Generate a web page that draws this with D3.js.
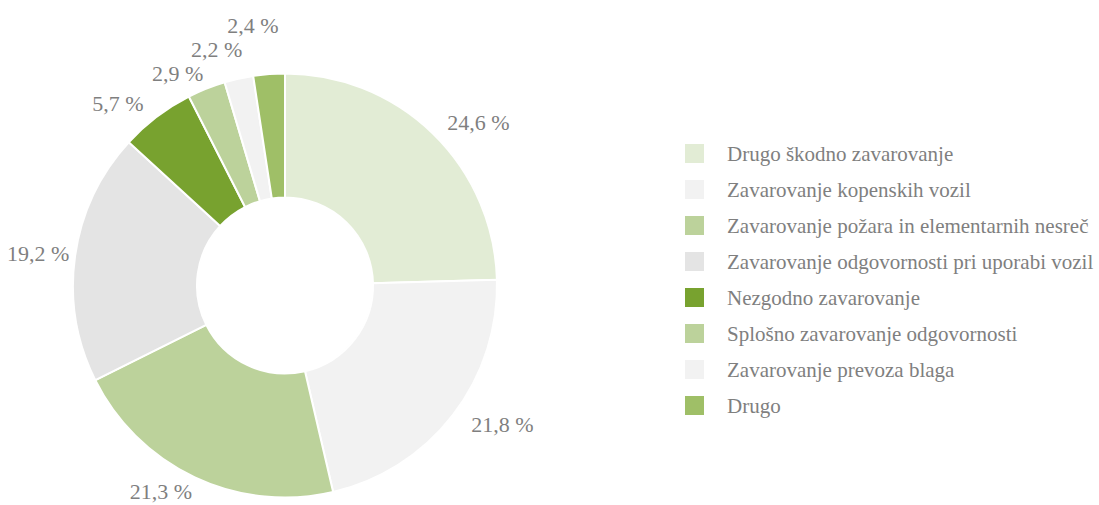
<!DOCTYPE html>
<html>
<head>
  <meta charset="utf-8">
  <script src="https://cdn.jsdelivr.net/npm/d3@7"></script>
  <style>
    body { margin: 0; background: #fff; }
    svg text { font-family: "Liberation Serif", "Times New Roman", serif; }
  </style>
</head>
<body>
<script>
  // chart data
  var categories = [
    "Drugo škodno zavarovanje",
    "Zavarovanje kopenskih vozil",
    "Zavarovanje požara in elementarnih nesreč",
    "Zavarovanje odgovornosti pri uporabi vozil",
    "Nezgodno zavarovanje",
    "Splošno zavarovanje odgovornosti",
    "Zavarovanje prevoza blaga",
    "Drugo"
  ];
  var shares = [24.6, 21.8, 21.3, 19.2, 5.7, 2.9, 2.2, 2.4];
  var colours = ["#e2ecd5", "#f2f2f2", "#bcd29b", "#e4e4e4", "#78a22f", "#bcd29b", "#f2f2f2", "#9fbf67"];

  var width = 1099, height = 505;
  var cx = 285, cy = 285.5,
      outerR = 212, innerR = 88,
      labelRx = 255, labelRy = 228, lineH = 24;

  var svg = d3.select("body").append("svg")
      .attr("width", width)
      .attr("height", height);

  var data = categories.map(function(c, i) {
    return {name: c, value: shares[i], colour: colours[i]};
  });

  var pie = d3.pie().value(function(d) { return d.value; }).sort(null);
  var arc = d3.arc().innerRadius(innerR).outerRadius(outerR);
  var arcs = pie(data);

  var g = svg.append("g").attr("transform", "translate(" + cx + "," + cy + ")");

  g.selectAll("path")
    .data(arcs)
    .enter().append("path")
      .attr("d", arc)
      .attr("fill", function(d) { return d.data.colour; })
      .attr("stroke", "#fff")
      .attr("stroke-width", 2);

  // percentage labels round the ring
  var fmt = function(v) { return d3.format(".1f")(v).replace(".", ",") + " %"; };
  var labels = g.selectAll("text.lbl")
    .data(arcs)
    .enter().append("text")
      .attr("class", "lbl")
      .attr("text-anchor", "middle")
      .attr("dominant-baseline", "central")
      .attr("fill", "#7f7f7f")
      .style("font-size", "22px")
      .text(function(d) { return fmt(d.data.value); });

  var widths = [];
  labels.each(function(d, i) { widths[i] = this.getComputedTextLength(); });

  var pos = arcs.map(function(d, i) {
    var a = (d.startAngle + d.endAngle) / 2,
        hw = widths[i] / 2,
        x = labelRx * Math.sin(a) + (Math.sin(a) < 0 ? -hw : hw) * 0.5;
    // keep inside the left edge
    if (cx + x - hw < 7) x = 7 + hw - cx;
    return {x: x, y: -labelRy * Math.cos(a)};
  });

  // push crowded small labels upwards so they stack
  for (var i = 1; i < pos.length; i++) {
    var p = pos[i], q = pos[i - 1];
    var overlapX = Math.abs(p.x - q.x) < (widths[i] + widths[i - 1]) / 2;
    if (overlapX && p.y > q.y - lineH && p.y < q.y + lineH) p.y = q.y - lineH;
  }

  labels
    .attr("x", function(d, i) { return pos[i].x; })
    .attr("y", function(d, i) { return pos[i].y; });

  // legend
  var legend = svg.append("g").attr("transform", "translate(685,153.5)");
  var row = legend.selectAll("g")
    .data(data)
    .enter().append("g")
      .attr("transform", function(d, i) { return "translate(0," + (i * 36) + ")"; });

  row.append("rect")
    .attr("x", 0).attr("y", -9.5)
    .attr("width", 19).attr("height", 19)
    .attr("fill", function(d) { return d.colour; });

  row.append("text")
    .attr("x", 42)
    .attr("dominant-baseline", "central")
    .attr("fill", "#7f7f7f")
    .style("font-size", "21px")
    .text(function(d) { return d.name; });
</script>
</body>
</html>
